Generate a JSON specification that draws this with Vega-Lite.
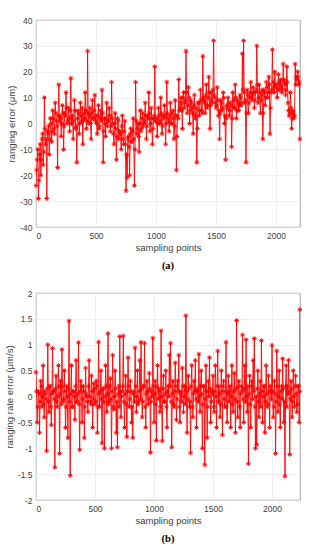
{
"$schema": "https://vega.github.io/schema/vega-lite/v6.json",
"autosize": {"type": "pad"},
"padding": {"left": 3, "top": 15, "right": 0, "bottom": 0},
"config": {
  "view": {"stroke": "#8c8c8c", "strokeWidth": 0.8},
  "font": "Liberation Sans",
  "axis": {"domain": false, "ticks": false, "grid": true, "gridColor": "#e6e6e6", "gridWidth": 0.6, "labelColor": "#404040", "labelFontSize": 8.5, "labelFont": "Liberation Sans", "titleFont": "Liberation Sans", "titleFontWeight": "normal", "titleFontSize": 9.5, "titleColor": "#404040", "labelPadding": 4, "titlePadding": 3, "labelExpr": "toString(datum.value)"},
  "title": {"font": "Liberation Serif", "fontWeight": "bold", "fontSize": 10.5, "color": "#000000", "orient": "bottom", "offset": 9}
},
"spacing": 16,
"datasets": {
"a": [
{"x":0,"y":-24},{"x":5,"y":-18},{"x":10,"y":-14},{"x":15,"y":-10},{"x":20,"y":-29},{"x":25,"y":-22},{"x":30,"y":-12},{"x":35,"y":-8},{"x":40,"y":-20},{"x":45,"y":-14},{"x":50,"y":-6},{"x":55,"y":-4},{"x":60,"y":-16},{"x":65,"y":-11},{"x":70,"y":10},{"x":75,"y":-2},{"x":80,"y":-8},{"x":85,"y":-6},{"x":90,"y":-29},{"x":95,"y":-3},
{"x":100,"y":-4},{"x":105,"y":-1},{"x":110,"y":-12},{"x":115,"y":-6},{"x":120,"y":2},{"x":125,"y":0},{"x":130,"y":-7},{"x":135,"y":-3},{"x":140,"y":5},{"x":145,"y":2},{"x":150,"y":-2},{"x":155,"y":-4},{"x":160,"y":8},{"x":165,"y":4},{"x":170,"y":1},{"x":175,"y":-1},{"x":180,"y":-17},{"x":185,"y":3},{"x":190,"y":15},{"x":195,"y":1},
{"x":200,"y":3},{"x":205,"y":2},{"x":210,"y":-5},{"x":215,"y":0},{"x":220,"y":7},{"x":225,"y":4},{"x":230,"y":-10},{"x":235,"y":-1},{"x":240,"y":4},{"x":245,"y":3},{"x":250,"y":12},{"x":255,"y":6},{"x":260,"y":0},{"x":265,"y":1},{"x":270,"y":6},{"x":275,"y":2},{"x":280,"y":-3},{"x":285,"y":5},{"x":290,"y":17.5},{"x":295,"y":0},
{"x":300,"y":2},{"x":305,"y":3},{"x":310,"y":-6},{"x":315,"y":1},{"x":320,"y":9},{"x":325,"y":5},{"x":330,"y":-2},{"x":335,"y":-1},{"x":340,"y":-15},{"x":345,"y":2},{"x":350,"y":5},{"x":355,"y":4},{"x":360,"y":-4},{"x":365,"y":0},{"x":370,"y":8},{"x":375,"y":3},{"x":380,"y":1},{"x":385,"y":6},{"x":390,"y":-8},{"x":395,"y":1},
{"x":400,"y":4},{"x":405,"y":2},{"x":410,"y":12},{"x":415,"y":5},{"x":420,"y":-2},{"x":425,"y":1},{"x":430,"y":28},{"x":435,"y":4},{"x":440,"y":0},{"x":445,"y":3},{"x":450,"y":6},{"x":455,"y":0},{"x":460,"y":-6},{"x":465,"y":4},{"x":470,"y":9},{"x":475,"y":2},{"x":480,"y":2},{"x":485,"y":5},{"x":490,"y":11},{"x":495,"y":1},
{"x":500,"y":3},{"x":505,"y":0},{"x":510,"y":-4},{"x":515,"y":3},{"x":520,"y":7},{"x":525,"y":-2},{"x":530,"y":-1},{"x":535,"y":2},{"x":540,"y":5},{"x":545,"y":1},{"x":550,"y":13},{"x":555,"y":4},{"x":560,"y":-15},{"x":565,"y":-3},{"x":570,"y":2},{"x":575,"y":0},{"x":580,"y":-5},{"x":585,"y":2},{"x":590,"y":8},{"x":595,"y":-1},
{"x":600,"y":1},{"x":605,"y":1},{"x":610,"y":6},{"x":615,"y":3},{"x":620,"y":-3},{"x":625,"y":-1},{"x":630,"y":16},{"x":635,"y":2},{"x":640,"y":0},{"x":645,"y":-4},{"x":650,"y":-8},{"x":655,"y":0},{"x":660,"y":4},{"x":665,"y":-2},{"x":670,"y":-14},{"x":675,"y":-5},{"x":680,"y":2},{"x":685,"y":1},{"x":690,"y":-6},{"x":695,"y":-3},
{"x":700,"y":-3},{"x":705,"y":-4},{"x":710,"y":-10},{"x":715,"y":-1},{"x":720,"y":3},{"x":725,"y":-6},{"x":730,"y":-8},{"x":735,"y":-3},{"x":740,"y":1},{"x":745,"y":-8},{"x":750,"y":-26},{"x":755,"y":-12},{"x":760,"y":-21},{"x":765,"y":-6},{"x":770,"y":-5},{"x":775,"y":-9},{"x":780,"y":-20},{"x":785,"y":-4},{"x":790,"y":-2},{"x":795,"y":-7},
{"x":800,"y":-7},{"x":805,"y":-3},{"x":810,"y":2},{"x":815,"y":-6},{"x":820,"y":-24},{"x":825,"y":-10},{"x":830,"y":16},{"x":835,"y":1},{"x":840,"y":-4},{"x":845,"y":-2},{"x":850,"y":0},{"x":855,"y":-5},{"x":860,"y":-11},{"x":865,"y":0},{"x":870,"y":5},{"x":875,"y":-3},{"x":880,"y":-2},{"x":885,"y":2},{"x":890,"y":4},{"x":895,"y":-1},
{"x":900,"y":0},{"x":905,"y":1},{"x":910,"y":8},{"x":915,"y":3},{"x":920,"y":-6},{"x":925,"y":-1},{"x":930,"y":3},{"x":935,"y":2},{"x":940,"y":12},{"x":945,"y":4},{"x":950,"y":-3},{"x":955,"y":0},{"x":960,"y":6},{"x":965,"y":2},{"x":970,"y":-8},{"x":975,"y":-2},{"x":980,"y":2},{"x":985,"y":3},{"x":990,"y":22},{"x":995,"y":1},
{"x":1000,"y":1},{"x":1005,"y":2},{"x":1010,"y":-5},{"x":1015,"y":0},{"x":1020,"y":6},{"x":1025,"y":3},{"x":1030,"y":0},{"x":1035,"y":1},{"x":1040,"y":10},{"x":1045,"y":4},{"x":1050,"y":-4},{"x":1055,"y":-1},{"x":1060,"y":3},{"x":1065,"y":2},{"x":1070,"y":7},{"x":1075,"y":3},{"x":1080,"y":-8},{"x":1085,"y":0},{"x":1090,"y":16},{"x":1095,"y":4},
{"x":1100,"y":2},{"x":1105,"y":1},{"x":1110,"y":-3},{"x":1115,"y":3},{"x":1120,"y":8},{"x":1125,"y":0},{"x":1130,"y":0},{"x":1135,"y":4},{"x":1140,"y":5},{"x":1145,"y":2},{"x":1150,"y":-6},{"x":1155,"y":-1},{"x":1160,"y":9},{"x":1165,"y":3},{"x":1170,"y":-18},{"x":1175,"y":-5},{"x":1180,"y":3},{"x":1185,"y":2},{"x":1190,"y":17},{"x":1195,"y":5},
{"x":1200,"y":6},{"x":1205,"y":8},{"x":1210,"y":10},{"x":1215,"y":5},{"x":1220,"y":-2},{"x":1225,"y":10},{"x":1230,"y":12},{"x":1235,"y":6},{"x":1240,"y":8},{"x":1245,"y":9},{"x":1250,"y":28},{"x":1255,"y":12},{"x":1260,"y":4},{"x":1265,"y":7},{"x":1270,"y":14},{"x":1275,"y":10},{"x":1280,"y":0},{"x":1285,"y":5},{"x":1290,"y":9},{"x":1295,"y":8},
{"x":1300,"y":6},{"x":1305,"y":4},{"x":1310,"y":-4},{"x":1315,"y":7},{"x":1320,"y":11},{"x":1325,"y":3},{"x":1330,"y":2},{"x":1335,"y":6},{"x":1340,"y":-15},{"x":1345,"y":-2},{"x":1350,"y":8},{"x":1355,"y":8},{"x":1360,"y":3},{"x":1365,"y":5},{"x":1370,"y":13},{"x":1375,"y":9},{"x":1380,"y":5},{"x":1385,"y":4},{"x":1390,"y":26},{"x":1395,"y":10},
{"x":1400,"y":9},{"x":1405,"y":8},{"x":1410,"y":4},{"x":1415,"y":11},{"x":1420,"y":15},{"x":1425,"y":6},{"x":1430,"y":7},{"x":1435,"y":10},{"x":1440,"y":18},{"x":1445,"y":12},{"x":1450,"y":-2},{"x":1455,"y":7},{"x":1460,"y":12},{"x":1465,"y":9},{"x":1470,"y":8},{"x":1475,"y":13},{"x":1480,"y":32},{"x":1485,"y":11},{"x":1490,"y":10},{"x":1495,"y":8},
{"x":1500,"y":6},{"x":1505,"y":7},{"x":1510,"y":14},{"x":1515,"y":9},{"x":1520,"y":3},{"x":1525,"y":5},{"x":1530,"y":-6},{"x":1535,"y":4},{"x":1540,"y":9},{"x":1545,"y":8},{"x":1550,"y":5},{"x":1555,"y":6},{"x":1560,"y":12},{"x":1565,"y":10},{"x":1570,"y":0},{"x":1575,"y":3},{"x":1580,"y":-14},{"x":1585,"y":2},{"x":1590,"y":7},{"x":1595,"y":6},
{"x":1600,"y":10},{"x":1605,"y":8},{"x":1610,"y":3},{"x":1615,"y":5},{"x":1620,"y":8},{"x":1625,"y":7},{"x":1630,"y":-9},{"x":1635,"y":2},{"x":1640,"y":12},{"x":1645,"y":9},{"x":1650,"y":6},{"x":1655,"y":6},{"x":1660,"y":15},{"x":1665,"y":10},{"x":1670,"y":2},{"x":1675,"y":5},{"x":1680,"y":9},{"x":1685,"y":8},{"x":1690,"y":5},{"x":1695,"y":7},
{"x":1700,"y":11},{"x":1705,"y":10},{"x":1710,"y":7},{"x":1715,"y":8},{"x":1720,"y":27},{"x":1725,"y":13},{"x":1730,"y":32},{"x":1735,"y":12},{"x":1740,"y":8},{"x":1745,"y":9},{"x":1750,"y":-15},{"x":1755,"y":4},{"x":1760,"y":13},{"x":1765,"y":11},{"x":1770,"y":4},{"x":1775,"y":8},{"x":1780,"y":10},{"x":1785,"y":12},{"x":1790,"y":16},{"x":1795,"y":10},
{"x":1800,"y":9},{"x":1805,"y":11},{"x":1810,"y":14},{"x":1815,"y":12},{"x":1820,"y":6},{"x":1825,"y":9},{"x":1830,"y":12},{"x":1835,"y":13},{"x":1840,"y":30},{"x":1845,"y":15},{"x":1850,"y":8},{"x":1855,"y":10},{"x":1860,"y":15},{"x":1865,"y":12},{"x":1870,"y":4},{"x":1875,"y":9},{"x":1880,"y":11},{"x":1885,"y":13},{"x":1890,"y":-6},{"x":1895,"y":4},
{"x":1900,"y":13},{"x":1905,"y":12},{"x":1910,"y":7},{"x":1915,"y":10},{"x":1920,"y":16},{"x":1925,"y":14},{"x":1930,"y":10},{"x":1935,"y":12},{"x":1940,"y":18},{"x":1945,"y":15},{"x":1950,"y":-4},{"x":1955,"y":6},{"x":1960,"y":12},{"x":1965,"y":13},{"x":1970,"y":28.5},{"x":1975,"y":16},{"x":1980,"y":14},{"x":1985,"y":12},{"x":1990,"y":20},{"x":1995,"y":15},
{"x":2000,"y":15},{"x":2005,"y":14},{"x":2010,"y":10},{"x":2015,"y":13},{"x":2020,"y":19},{"x":2025,"y":16},{"x":2030,"y":13},{"x":2035,"y":15},{"x":2040,"y":17},{"x":2045,"y":14},{"x":2050,"y":12},{"x":2055,"y":13},{"x":2060,"y":23},{"x":2065,"y":17},{"x":2070,"y":16},{"x":2075,"y":15},{"x":2080,"y":11},{"x":2085,"y":13},{"x":2090,"y":22},{"x":2095,"y":16},
{"x":2100,"y":8},{"x":2105,"y":5},{"x":2110,"y":3},{"x":2115,"y":4},{"x":2120,"y":12},{"x":2125,"y":6},{"x":2130,"y":-2},{"x":2135,"y":2},{"x":2140,"y":5},{"x":2145,"y":4},{"x":2150,"y":2},{"x":2155,"y":3},{"x":2160,"y":23},{"x":2165,"y":15},{"x":2170,"y":18},{"x":2175,"y":17},{"x":2180,"y":20},{"x":2185,"y":18},{"x":2190,"y":15},{"x":2195,"y":16},{"x":2199,"y":-6}
],
"b": [
{"x":0,"y":0.47},{"x":5,"y":0.1},{"x":10,"y":-0.5},{"x":15,"y":-0.2},{"x":20,"y":0.1},{"x":25,"y":0.05},{"x":30,"y":-0.7},{"x":35,"y":-0.1},{"x":40,"y":0.3},{"x":45,"y":0.2},{"x":50,"y":-0.2},{"x":55,"y":0.0},{"x":60,"y":0.6},{"x":65,"y":-0.15},{"x":70,"y":-0.4},{"x":75,"y":0.1},{"x":80,"y":0.05},{"x":85,"y":-0.05},{"x":90,"y":-1.05},{"x":95,"y":0.15},
{"x":100,"y":1.0},{"x":105,"y":-0.1},{"x":110,"y":-0.3},{"x":115,"y":0.2},{"x":120,"y":0.2},{"x":125,"y":-0.2},{"x":130,"y":-0.55},{"x":135,"y":0.05},{"x":140,"y":0.93},{"x":145,"y":0.1},{"x":150,"y":0.1},{"x":155,"y":-0.05},{"x":160,"y":-1.37},{"x":165,"y":0.15},{"x":170,"y":0.4},{"x":175,"y":-0.1},{"x":180,"y":-0.2},{"x":185,"y":0.0},{"x":190,"y":0.6},{"x":195,"y":0.2},
{"x":200,"y":-1.1},{"x":205,"y":0.05},{"x":210,"y":0.3},{"x":215,"y":-0.15},{"x":220,"y":0.91},{"x":225,"y":0.2},{"x":230,"y":-0.1},{"x":235,"y":-0.05},{"x":240,"y":0.5},{"x":245,"y":0.1},{"x":250,"y":-0.6},{"x":255,"y":-0.2},{"x":260,"y":0.2},{"x":265,"y":0.0},{"x":270,"y":-0.8},{"x":275,"y":0.15},{"x":280,"y":1.46},{"x":285,"y":-0.1},{"x":290,"y":-1.53},{"x":295,"y":0.05},
{"x":300,"y":0.6},{"x":305,"y":-0.2},{"x":310,"y":-0.2},{"x":315,"y":0.1},{"x":320,"y":0.1},{"x":325,"y":0.0},{"x":330,"y":-0.45},{"x":335,"y":0.2},{"x":340,"y":0.7},{"x":345,"y":-0.1},{"x":350,"y":-0.1},{"x":355,"y":0.05},{"x":360,"y":1.04},{"x":365,"y":-0.15},{"x":370,"y":-1.03},{"x":375,"y":0.1},{"x":380,"y":0.3},{"x":385,"y":0.2},{"x":390,"y":-0.5},{"x":395,"y":-0.05},
{"x":400,"y":0.2},{"x":405,"y":0.1},{"x":410,"y":-0.8},{"x":415,"y":-0.2},{"x":420,"y":0.55},{"x":425,"y":0.05},{"x":430,"y":0.0},{"x":435,"y":-0.1},{"x":440,"y":-0.3},{"x":445,"y":0.2},{"x":450,"y":0.7},{"x":455,"y":0.0},{"x":460,"y":-0.1},{"x":465,"y":-0.15},{"x":470,"y":0.4},{"x":475,"y":0.1},{"x":480,"y":-0.6},{"x":485,"y":-0.05},{"x":490,"y":0.25},{"x":495,"y":0.15},
{"x":500,"y":-0.15},{"x":505,"y":-0.1},{"x":510,"y":0.3},{"x":515,"y":0.2},{"x":520,"y":-0.7},{"x":525,"y":-0.2},{"x":530,"y":1.05},{"x":535,"y":0.05},{"x":540,"y":-0.2},{"x":545,"y":0.1},{"x":550,"y":0.5},{"x":555,"y":-0.05},{"x":560,"y":-0.9},{"x":565,"y":0.15},{"x":570,"y":0.15},{"x":575,"y":-0.1},{"x":580,"y":-1.0},{"x":585,"y":0.0},{"x":590,"y":0.6},{"x":595,"y":0.2},
{"x":600,"y":-0.3},{"x":605,"y":0.05},{"x":610,"y":1.22},{"x":615,"y":-0.15},{"x":620,"y":-0.1},{"x":625,"y":0.2},{"x":630,"y":0.35},{"x":635,"y":-0.05},{"x":640,"y":-1.0},{"x":645,"y":0.1},{"x":650,"y":0.8},{"x":655,"y":-0.2},{"x":660,"y":-0.25},{"x":665,"y":0.0},{"x":670,"y":0.5},{"x":675,"y":0.15},{"x":680,"y":-0.7},{"x":685,"y":-0.1},{"x":690,"y":-0.98},{"x":695,"y":0.05},
{"x":700,"y":0.2},{"x":705,"y":-0.2},{"x":710,"y":1.16},{"x":715,"y":0.1},{"x":720,"y":-0.4},{"x":725,"y":0.0},{"x":730,"y":0.1},{"x":735,"y":0.2},{"x":740,"y":1.17},{"x":745,"y":-0.1},{"x":750,"y":-0.6},{"x":755,"y":0.05},{"x":760,"y":0.4},{"x":765,"y":-0.15},{"x":770,"y":-0.78},{"x":775,"y":0.1},{"x":780,"y":0.75},{"x":785,"y":0.2},{"x":790,"y":-0.2},{"x":795,"y":-0.05},
{"x":800,"y":0.3},{"x":805,"y":0.1},{"x":810,"y":-0.5},{"x":815,"y":-0.2},{"x":820,"y":-0.8},{"x":825,"y":0.05},{"x":830,"y":0.1},{"x":835,"y":-0.1},{"x":840,"y":0.94},{"x":845,"y":0.2},{"x":850,"y":-0.3},{"x":855,"y":0.0},{"x":860,"y":0.5},{"x":865,"y":-0.15},{"x":870,"y":-0.1},{"x":875,"y":0.1},{"x":880,"y":0.7},{"x":885,"y":-0.05},{"x":890,"y":1.05},{"x":895,"y":0.15},
{"x":900,"y":-0.4},{"x":905,"y":-0.1},{"x":910,"y":0.2},{"x":915,"y":0.2},{"x":920,"y":1.03},{"x":925,"y":-0.2},{"x":930,"y":-0.6},{"x":935,"y":0.05},{"x":940,"y":0.3},{"x":945,"y":0.1},{"x":950,"y":-0.15},{"x":955,"y":-0.05},{"x":960,"y":0.45},{"x":965,"y":0.15},{"x":970,"y":-1.08},{"x":975,"y":-0.1},{"x":980,"y":0.1},{"x":985,"y":0.0},{"x":990,"y":1.13},{"x":995,"y":0.2},
{"x":1000,"y":-0.5},{"x":1005,"y":0.05},{"x":1010,"y":0.3},{"x":1015,"y":-0.15},{"x":1020,"y":-0.85},{"x":1025,"y":0.2},{"x":1030,"y":0.6},{"x":1035,"y":-0.05},{"x":1040,"y":0.15},{"x":1045,"y":0.1},{"x":1050,"y":-0.3},{"x":1055,"y":-0.2},{"x":1060,"y":1.27},{"x":1065,"y":0.0},{"x":1070,"y":-0.86},{"x":1075,"y":0.15},{"x":1080,"y":0.4},{"x":1085,"y":-0.1},{"x":1090,"y":-0.1},{"x":1095,"y":0.05},
{"x":1100,"y":0.5},{"x":1105,"y":-0.2},{"x":1110,"y":-0.6},{"x":1115,"y":0.1},{"x":1120,"y":0.2},{"x":1125,"y":0.0},{"x":1130,"y":0.8},{"x":1135,"y":0.2},{"x":1140,"y":1.03},{"x":1145,"y":-0.1},{"x":1150,"y":-0.98},{"x":1155,"y":0.05},{"x":1160,"y":0.3},{"x":1165,"y":-0.15},{"x":1170,"y":-0.2},{"x":1175,"y":0.1},{"x":1180,"y":0.65},{"x":1185,"y":0.2},{"x":1190,"y":-0.45},{"x":1195,"y":-0.05},
{"x":1200,"y":0.3},{"x":1205,"y":0.1},{"x":1210,"y":0.8},{"x":1215,"y":-0.2},{"x":1220,"y":-0.5},{"x":1225,"y":0.05},{"x":1230,"y":0.1},{"x":1235,"y":-0.1},{"x":1240,"y":0.55},{"x":1245,"y":0.2},{"x":1250,"y":-0.3},{"x":1255,"y":0.0},{"x":1260,"y":0.2},{"x":1265,"y":-0.15},{"x":1270,"y":1.56},{"x":1275,"y":0.1},{"x":1280,"y":-0.7},{"x":1285,"y":-0.05},{"x":1290,"y":0.4},{"x":1295,"y":0.15},
{"x":1300,"y":-0.2},{"x":1305,"y":-0.1},{"x":1310,"y":-1.09},{"x":1315,"y":0.2},{"x":1320,"y":0.6},{"x":1325,"y":-0.2},{"x":1330,"y":-0.4},{"x":1335,"y":0.05},{"x":1340,"y":0.3},{"x":1345,"y":0.1},{"x":1350,"y":0.7},{"x":1355,"y":-0.05},{"x":1360,"y":-0.6},{"x":1365,"y":0.15},{"x":1370,"y":0.1},{"x":1375,"y":-0.1},{"x":1380,"y":0.82},{"x":1385,"y":0.0},{"x":1390,"y":-0.3},{"x":1395,"y":0.2},
{"x":1400,"y":0.5},{"x":1405,"y":0.05},{"x":1410,"y":-1.0},{"x":1415,"y":-0.15},{"x":1420,"y":0.2},{"x":1425,"y":0.2},{"x":1430,"y":-1.32},{"x":1435,"y":-0.05},{"x":1440,"y":0.6},{"x":1445,"y":0.1},{"x":1450,"y":-0.8},{"x":1455,"y":-0.2},{"x":1460,"y":0.3},{"x":1465,"y":0.0},{"x":1470,"y":0.75},{"x":1475,"y":0.15},{"x":1480,"y":-0.5},{"x":1485,"y":-0.1},{"x":1490,"y":0.1},{"x":1495,"y":0.05},
{"x":1500,"y":0.4},{"x":1505,"y":-0.2},{"x":1510,"y":-0.3},{"x":1515,"y":0.1},{"x":1520,"y":0.6},{"x":1525,"y":0.0},{"x":1530,"y":-0.6},{"x":1535,"y":0.2},{"x":1540,"y":0.88},{"x":1545,"y":-0.1},{"x":1550,"y":0.2},{"x":1555,"y":0.05},{"x":1560,"y":-0.4},{"x":1565,"y":-0.15},{"x":1570,"y":0.5},{"x":1575,"y":0.1},{"x":1580,"y":-0.74},{"x":1585,"y":0.2},{"x":1590,"y":0.3},{"x":1595,"y":-0.05},
{"x":1600,"y":-0.2},{"x":1605,"y":0.1},{"x":1610,"y":1.05},{"x":1615,"y":-0.2},{"x":1620,"y":-0.5},{"x":1625,"y":0.05},{"x":1630,"y":0.4},{"x":1635,"y":-0.1},{"x":1640,"y":0.1},{"x":1645,"y":0.2},{"x":1650,"y":-0.6},{"x":1655,"y":0.0},{"x":1660,"y":0.6},{"x":1665,"y":-0.15},{"x":1670,"y":-0.3},{"x":1675,"y":0.1},{"x":1680,"y":0.45},{"x":1685,"y":-0.05},{"x":1690,"y":-0.7},{"x":1695,"y":0.15},
{"x":1700,"y":1.47},{"x":1705,"y":-0.1},{"x":1710,"y":-0.4},{"x":1715,"y":0.2},{"x":1720,"y":0.3},{"x":1725,"y":-0.2},{"x":1730,"y":-0.6},{"x":1735,"y":0.05},{"x":1740,"y":0.2},{"x":1745,"y":0.1},{"x":1750,"y":1.19},{"x":1755,"y":-0.05},{"x":1760,"y":-0.5},{"x":1765,"y":0.15},{"x":1770,"y":0.6},{"x":1775,"y":-0.1},{"x":1780,"y":1.1},{"x":1785,"y":0.0},{"x":1790,"y":-0.3},{"x":1795,"y":0.2},
{"x":1800,"y":-1.3},{"x":1805,"y":0.05},{"x":1810,"y":0.4},{"x":1815,"y":-0.15},{"x":1820,"y":-0.6},{"x":1825,"y":0.2},{"x":1830,"y":0.3},{"x":1835,"y":-0.05},{"x":1840,"y":0.7},{"x":1845,"y":0.1},{"x":1850,"y":1.12},{"x":1855,"y":-0.2},{"x":1860,"y":-1.0},{"x":1865,"y":0.0},{"x":1870,"y":-0.93},{"x":1875,"y":0.15},{"x":1880,"y":0.5},{"x":1885,"y":-0.1},{"x":1890,"y":-0.4},{"x":1895,"y":0.05},
{"x":1900,"y":0.3},{"x":1905,"y":-0.2},{"x":1910,"y":1.08},{"x":1915,"y":0.1},{"x":1920,"y":-0.5},{"x":1925,"y":0.0},{"x":1930,"y":0.2},{"x":1935,"y":0.2},{"x":1940,"y":-0.7},{"x":1945,"y":-0.1},{"x":1950,"y":0.6},{"x":1955,"y":0.05},{"x":1960,"y":-0.2},{"x":1965,"y":-0.15},{"x":1970,"y":0.4},{"x":1975,"y":0.1},{"x":1980,"y":-0.6},{"x":1985,"y":0.2},{"x":1990,"y":0.1},{"x":1995,"y":-0.05},
{"x":2000,"y":0.99},{"x":2005,"y":0.1},{"x":2010,"y":-0.4},{"x":2015,"y":-0.2},{"x":2020,"y":0.3},{"x":2025,"y":0.05},{"x":2030,"y":-1.1},{"x":2035,"y":-0.1},{"x":2040,"y":0.88},{"x":2045,"y":0.2},{"x":2050,"y":-0.3},{"x":2055,"y":0.0},{"x":2060,"y":0.5},{"x":2065,"y":-0.15},{"x":2070,"y":-0.6},{"x":2075,"y":0.1},{"x":2080,"y":0.2},{"x":2085,"y":-0.05},{"x":2090,"y":0.73},{"x":2095,"y":0.15},
{"x":2100,"y":-0.5},{"x":2105,"y":-0.1},{"x":2110,"y":-1.54},{"x":2115,"y":0.2},{"x":2120,"y":0.6},{"x":2125,"y":-0.2},{"x":2130,"y":0.2},{"x":2135,"y":0.05},{"x":2140,"y":0.7},{"x":2145,"y":0.1},{"x":2150,"y":-1.12},{"x":2155,"y":-0.05},{"x":2160,"y":0.3},{"x":2165,"y":0.15},{"x":2170,"y":-0.4},{"x":2175,"y":-0.1},{"x":2180,"y":0.5},{"x":2185,"y":0.0},{"x":2190,"y":-0.2},{"x":2195,"y":0.2},
{"x":2200,"y":0.4},{"x":2205,"y":0.05},{"x":2210,"y":-0.3},{"x":2215,"y":-0.15},{"x":2220,"y":0.2},{"x":2225,"y":0.2},{"x":2230,"y":-0.5},{"x":2235,"y":0.1},{"x":2236,"y":1.68}
]
},
"vconcat": [
{
  "width": 264, "height": 207,
  "title": {"text": "(a)"},
  "data": {"name": "a"},
  "encoding": {
    "x": {"field": "x", "type": "quantitative", "scale": {"domain": [0, 2200], "nice": false, "zero": false}, "axis": {"values": [0, 500, 1000, 1500, 2000], "title": "sampling points"}},
    "y": {"field": "y", "type": "quantitative", "scale": {"domain": [-40, 40], "nice": false}, "axis": {"values": [-40, -30, -20, -10, 0, 10, 20, 30, 40], "title": "ranging error (μm)"}}
  },
  "layer": [
    {"mark": {"type": "line", "color": "#ff0000", "strokeWidth": 0.9, "clip": true}},
    {"mark": {"type": "point", "shape": "M-1,0H1M0,-1V1M-0.7,-0.7L0.7,0.7M-0.7,0.7L0.7,-0.7", "color": "#ff0000", "size": 22, "strokeWidth": 0.9, "filled": false, "opacity": 1}}
  ]
},
{
  "width": 264, "height": 207,
  "title": {"text": "(b)"},
  "data": {"name": "b"},
  "encoding": {
    "x": {"field": "x", "type": "quantitative", "scale": {"domain": [0, 2237], "nice": false, "zero": false}, "axis": {"values": [0, 500, 1000, 1500, 2000], "title": "sampling points"}},
    "y": {"field": "y", "type": "quantitative", "scale": {"domain": [-2, 2], "nice": false}, "axis": {"values": [-2, -1.5, -1, -0.5, 0, 0.5, 1, 1.5, 2], "title": "ranging rate error (μm/s)"}}
  },
  "layer": [
    {"mark": {"type": "line", "color": "#ff0000", "strokeWidth": 0.9, "clip": true}},
    {"mark": {"type": "point", "shape": "M-1,0H1M0,-1V1M-0.7,-0.7L0.7,0.7M-0.7,0.7L0.7,-0.7", "color": "#ff0000", "size": 22, "strokeWidth": 0.9, "filled": false, "opacity": 1}}
  ]
}
]
}
